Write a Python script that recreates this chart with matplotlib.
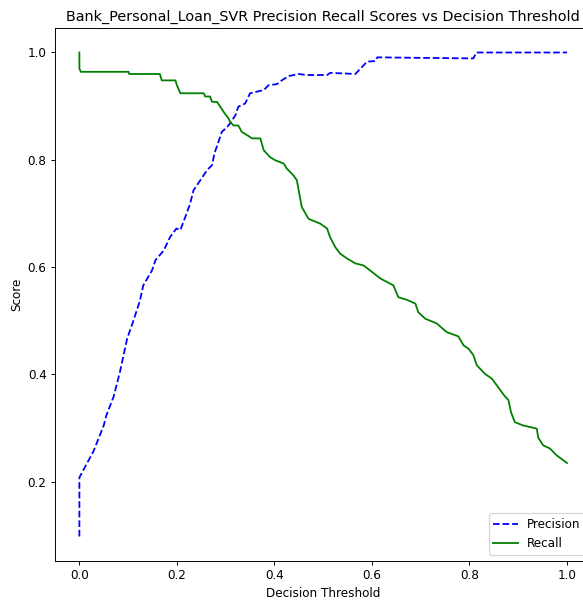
import matplotlib
matplotlib.use("Agg")
import matplotlib.pyplot as plt

title = "Bank_Personal_Loan_SVR Precision Recall Scores vs Decision Threshold"

prec_thr = [0.0, 0.0, 0.029, 0.05, 0.055, 0.070, 0.083, 0.098, 0.110, 0.124, 0.131,
            0.149, 0.156, 0.173, 0.186, 0.199, 0.207, 0.217, 0.227, 0.234, 0.248,
            0.262, 0.272, 0.277, 0.285, 0.292, 0.303, 0.309, 0.320, 0.326, 0.340,
            0.350, 0.364, 0.378, 0.388, 0.405, 0.415, 0.429, 0.449, 0.466, 0.508,
            0.514, 0.566, 0.590, 0.607, 0.611, 0.700, 0.808, 0.814, 0.900, 1.0]
precision = [0.098, 0.208, 0.257, 0.305, 0.323, 0.358, 0.404, 0.467, 0.498, 0.537, 0.566,
             0.594, 0.613, 0.631, 0.656, 0.672, 0.669, 0.693, 0.718, 0.743, 0.762,
             0.781, 0.790, 0.812, 0.833, 0.852, 0.861, 0.868, 0.883, 0.899, 0.905,
             0.924, 0.927, 0.930, 0.939, 0.941, 0.948, 0.956, 0.960, 0.958, 0.958,
             0.962, 0.960, 0.983, 0.984, 0.991, 0.990, 0.989, 1.0, 1.0, 1.0]

rec_thr = [0.0, 0.0, 0.003, 0.101, 0.102, 0.165, 0.169, 0.197, 0.200, 0.207, 0.255,
           0.258, 0.268, 0.272, 0.282, 0.289, 0.296, 0.306, 0.309, 0.316, 0.326,
           0.333, 0.344, 0.354, 0.371, 0.378, 0.391, 0.402, 0.419, 0.425, 0.439,
           0.446, 0.451, 0.456, 0.470, 0.494, 0.508, 0.514, 0.525, 0.535, 0.549,
           0.566, 0.583, 0.596, 0.617, 0.644, 0.654, 0.672, 0.689, 0.695, 0.709,
           0.733, 0.753, 0.777, 0.788, 0.798, 0.808, 0.815, 0.832, 0.846, 0.859,
           0.871, 0.880, 0.885, 0.893, 0.910, 0.938, 0.941, 0.951, 0.965, 0.979, 1.0]
recall = [1.0, 0.970, 0.964, 0.964, 0.960, 0.960, 0.948, 0.948, 0.939, 0.924, 0.924,
          0.918, 0.918, 0.908, 0.908, 0.899, 0.889, 0.877, 0.871, 0.864, 0.864,
          0.852, 0.846, 0.840, 0.840, 0.818, 0.805, 0.799, 0.793, 0.784, 0.771,
          0.762, 0.737, 0.712, 0.690, 0.681, 0.672, 0.656, 0.637, 0.625, 0.616,
          0.607, 0.603, 0.594, 0.579, 0.566, 0.544, 0.539, 0.532, 0.516, 0.504,
          0.495, 0.479, 0.471, 0.454, 0.448, 0.436, 0.417, 0.401, 0.392, 0.376,
          0.361, 0.352, 0.330, 0.311, 0.305, 0.299, 0.282, 0.268, 0.262, 0.249, 0.235]

DPI = 86.4
fig = plt.figure(figsize=(583 / DPI, 602 / DPI), dpi=DPI)
ax = fig.add_axes([55 / 583, (602 - 560.7) / 602, (591.4 - 55) / 583, (560.7 - 28.3) / 602])
ax.plot(prec_thr, precision, "b--", label="Precision")
ax.plot(rec_thr, recall, "g-", label="Recall")
ax.set_title(title)
ax.set_xlabel("Decision Threshold")
ax.set_ylabel("Score")
ax.legend(loc="lower right")
fig.savefig("out.png", dpi=DPI)
